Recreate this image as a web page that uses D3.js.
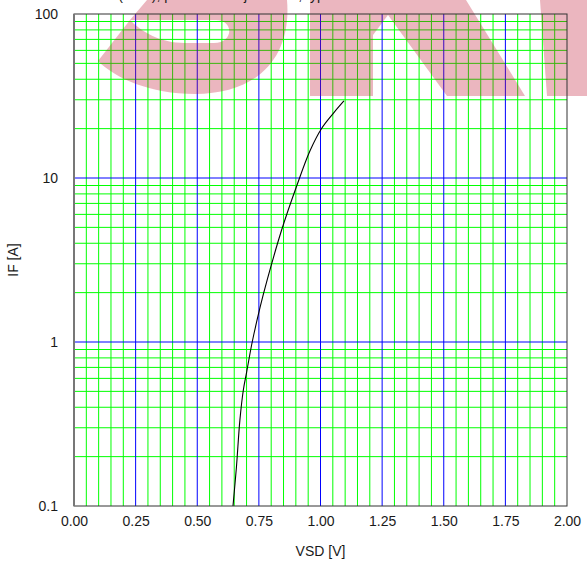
<!DOCTYPE html>
<html>
<head>
<meta charset="utf-8">
<script src="https://cdn.jsdelivr.net/npm/d3@7"></script>
<style>
    body { margin: 0; background: #fff; }
    text { font-family: "Liberation Sans", Arial, sans-serif; fill: #1a1a1a; }
</style>
</head>
<body>
<svg id="chart" width="587" height="569"></svg>
<script>
// Curve
const vsdValues = [0.645, 0.659, 0.673, 0.687, 0.700, 0.723, 0.755, 0.784, 0.842, 0.903, 0.957, 1.005, 1.052, 1.095];
const ifValues = [0.1, 0.173, 0.334, 0.51, 0.65, 1.0, 1.63, 2.4, 4.8, 8.9, 14.6, 20.1, 24.8, 29.5];

// Axis ticks
const xTicks = [0, 0.25, 0.5, 0.75, 1, 1.25, 1.5, 1.75, 2];
const yTicks = [0.1, 1, 10, 100];

const svg = d3.select("#chart");
const margin = { left: 74, right: 20, top: 14, bottom: 63 };
const width = 587 - margin.left - margin.right;
const height = 569 - margin.top - margin.bottom;

const x = d3.scaleLinear().domain([0, 2]).range([margin.left, margin.left + width]);
const y = d3.scaleLog().domain([0.1, 100]).range([margin.top + height, margin.top]);

const g = svg.append("g");

// Minor vertical lines every 0.05, blue every 0.25
const xMinor = d3.range(1, 40).map(i => i * 0.05).filter(v => Math.abs(v / 0.25 - Math.round(v / 0.25)) > 1e-6);
const xMajor = xTicks.slice(1, -1);

// Horizontal lines: 2..9 of each decade in green, decades in blue
const yMinor = [];
[0.1, 1, 10].forEach(d => { for (let k = 2; k <= 9; k++) yMinor.push(d * k); });
const yMajor = [1, 10];

g.selectAll(".vminor").data(xMinor).enter().append("line")
    .attr("x1", d => x(d)).attr("x2", d => x(d))
    .attr("y1", margin.top).attr("y2", margin.top + height)
    .attr("stroke", "#00ff00").attr("stroke-width", 1);

g.selectAll(".hminor").data(yMinor).enter().append("line")
    .attr("x1", margin.left).attr("x2", margin.left + width)
    .attr("y1", d => y(d)).attr("y2", d => y(d))
    .attr("stroke", "#00ff00").attr("stroke-width", 1);

g.selectAll(".vmajor").data(xMajor).enter().append("line")
    .attr("x1", d => x(d)).attr("x2", d => x(d))
    .attr("y1", margin.top).attr("y2", margin.top + height)
    .attr("stroke", "#0000ff").attr("stroke-width", 1);

g.selectAll(".hmajor").data(yMajor).enter().append("line")
    .attr("x1", margin.left).attr("x2", margin.left + width)
    .attr("y1", d => y(d)).attr("y2", d => y(d))
    .attr("stroke", "#0000ff").attr("stroke-width", 1);

// Watermark letters laid over the grid
const wm = svg.append("g").attr("fill", "rgb(190,20,50)").attr("fill-opacity", 0.31);
wm.append("path")
    .attr("fill-rule", "evenodd")
    .attr("d", "M147,0 L287,0 C292,60 255,94 195,94 C150,94 115,78 98,61 L130,20 Z " +
               "M130,20 L216,20 C234,20 234,43 214,43 L185,43 C160,43 142,32 130,20 Z");
wm.append("path")
    .attr("d", "M310,0 L466,0 L525,96 L447,96 L388,15 L373,35 L373,96 L310,96 Z");
wm.append("path")
    .attr("d", "M540,0 L587,0 L587,96 L547,96 Z");

// Title line, mostly cut off by the top edge (as in the source image)
svg.append("text")
    .attr("x", 86).attr("y", 0)
    .attr("font-size", 14)
    .text("IF = f(VSD); parameter: Tj = 25 °C, typ.");

// Curve
const line = d3.line()
    .x((d, i) => x(vsdValues[i]))
    .y(d => y(d))
    .curve(d3.curveCatmullRom.alpha(0.5));

svg.append("path")
    .datum(ifValues)
    .attr("d", line)
    .attr("fill", "none")
    .attr("stroke", "#000")
    .attr("stroke-width", 1.1);

// Frame
svg.append("rect")
    .attr("x", margin.left).attr("y", margin.top)
    .attr("width", width).attr("height", height)
    .attr("fill", "none").attr("stroke", "#333").attr("stroke-width", 1);
svg.append("line")
    .attr("x1", margin.left).attr("x2", margin.left)
    .attr("y1", margin.top).attr("y2", margin.top + height)
    .attr("stroke", "#777").attr("stroke-width", 2);

// Axes
const xAxis = svg.append("g")
    .attr("transform", `translate(0,${margin.top + height})`)
    .call(d3.axisBottom(x).tickValues(xTicks).tickFormat(d3.format(".2f")).tickSize(0).tickPadding(10));
const yAxis = svg.append("g")
    .attr("transform", `translate(${margin.left},0)`)
    .call(d3.axisLeft(y).tickValues(yTicks).tickFormat(d3.format("~g")).tickSize(0).tickPadding(16));
[xAxis, yAxis].forEach(a => {
    a.select(".domain").remove();
    a.selectAll("text").attr("font-size", 14).attr("font-family", "Liberation Sans, Arial, sans-serif").attr("fill", "#1a1a1a");
});

// Axis titles
svg.append("text")
    .attr("x", margin.left + width / 2).attr("y", 556)
    .attr("text-anchor", "middle").attr("font-size", 14)
    .text("VSD [V]");
svg.append("text")
    .attr("transform", `translate(18,${margin.top + height / 2}) rotate(-90)`)
    .attr("text-anchor", "middle").attr("font-size", 14)
    .text("IF [A]");
</script>
</body>
</html>
